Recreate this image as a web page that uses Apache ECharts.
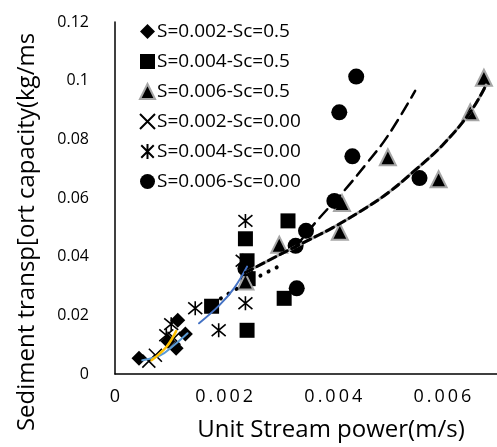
<!DOCTYPE html>
<html>
<head>
<meta charset="utf-8">
<script src="https://cdn.jsdelivr.net/npm/echarts@6/dist/echarts.min.js"></script>
<style>html,body{margin:0;padding:0;background:#fff;}#c{width:497px;height:447px;}</style>
</head>
<body>
<div id="c"></div>
<script>
// Series names (legend)
const seriesNames = ['S=0.002-Sc=0.5', 'S=0.004-Sc=0.5', 'S=0.006-Sc=0.5', 'S=0.002-Sc=0.00', 'S=0.004-Sc=0.00', 'S=0.006-Sc=0.00'];

// Scatter data [unit stream power, sediment transport capacity]
const s002sc05 = [[0.00044, 0.0054], [0.00115, 0.0183], [0.00129, 0.0136], [0.00112, 0.0088], [0.00097, 0.0112]];
const s004sc05 = [[0.00177, 0.0231], [0.00239, 0.0461], [0.00242, 0.0386], [0.00242, 0.0149], [0.00317, 0.0522], [0.0031, 0.0258], [0.00244, 0.0325]];
const s006sc05 = [[0.00239, 0.0315], [0.00301, 0.0441], [0.00412, 0.0485], [0.00416, 0.0583], [0.005, 0.0739], [0.00593, 0.0664], [0.00651, 0.0892], [0.00676, 0.101]];
const s002sc00 = [[0.00062, 0.0044], [0.00074, 0.0064], [0.00108, 0.0122]];
const s004sc00 = [[0.00094, 0.0132], [0.00103, 0.017], [0.00147, 0.0224], [0.0019, 0.0149], [0.00239, 0.0522], [0.00239, 0.0241], [0.00234, 0.0386]];
const s006sc00 = [[0.00239, 0.036], [0.00331, 0.0437], [0.0035, 0.0488], [0.00333, 0.0292], [0.00402, 0.059], [0.00435, 0.0742], [0.00411, 0.0892], [0.00442, 0.1014], [0.00558, 0.0668]];

// Trend lines
const trendLongDash = [[0.0033, 0.0431], [0.0037, 0.0522], [0.0042, 0.0625], [0.0046, 0.0715], [0.0050, 0.0812], [0.0055, 0.0965]];
const trendGrayDash = [[0.00239, 0.0346], [0.0030, 0.0405], [0.0035, 0.0452], [0.0040, 0.0500], [0.0045, 0.0555], [0.0050, 0.0617], [0.0055, 0.0695], [0.0060, 0.0780], [0.0065, 0.0890], [0.0068, 0.0985]];
const trendDots = [[0.0018, 0.0241], [0.00239, 0.0308], [0.0031, 0.0376]];
const trendBlue1 = [[0.00154, 0.0173], [0.00191, 0.0234], [0.00218, 0.0292], [0.00242, 0.0366]];
const trendBlue2 = [[0.0005, 0.0047], [0.00083, 0.0064], [0.00106, 0.0095], [0.00133, 0.0139]];
const trendOrange = [[0.00067, 0.0047], [0.00094, 0.0092], [0.00112, 0.0146]];

// Axis ticks
const xTickInterval = 0.002, xMin = 0, xMax = 0.007;
const yTickInterval = 0.02, yMin = 0, yMax = 0.12;

const FONT = 'Open Sans';
const crossPath = 'path://M0,0L10,10M10,0L0,10';
const starPath = 'path://M0,0L10,10M10,0L0,10M5,-1L5,11';

const chart = echarts.init(document.getElementById('c'), null, {renderer: 'canvas'});

function sc(name, data, symbol, size, style) {
  return {name, type: 'scatter', data, symbol, symbolSize: size, itemStyle: Object.assign({opacity: 1}, style), z: 2};
}
function tl(data, color, width, type, extra) {
  return Object.assign({type: 'line', data, smooth: 0.4, symbol: 'none', silent: true, z: 5,
    lineStyle: {color, width, type, cap: 'round'}}, extra || {});
}

chart.setOption({
  animation: false,
  backgroundColor: '#fff',
  grid: {left: 115, right: -13, top: 22, bottom: 71, containLabel: false},
  legend: {
    orient: 'vertical', left: 139, top: 22, padding: 0, itemGap: 11,
    itemWidth: 15, itemHeight: 15,
    textStyle: {fontFamily: FONT, fontSize: 19, color: '#000', padding: [0,0,0,-3]},
    data: seriesNames
  },
  xAxis: {
    type: 'value', min: xMin, max: xMax, interval: xTickInterval,
    name: 'Unit Stream power(m/s)', nameLocation: 'middle', nameGap: 44,
    nameTextStyle: {fontFamily: FONT, fontSize: 24, color: '#000', padding: [0,0,0,50]},
    axisLine: {show: true, lineStyle: {color: '#000', width: 1.5}},
    axisTick: {show: false}, splitLine: {show: false},
    axisLabel: {showMaxLabel: false, fontFamily: FONT, fontSize: 18, color: '#000', margin: 14,
      formatter: v => v === 0 ? '0' : v.toFixed(3).split('').join('\u2009')}
  },
  yAxis: {
    type: 'value', min: yMin, max: yMax, interval: yTickInterval,
    name: 'Sediment transp[ort capacity(kg/ms', nameLocation: 'middle', nameGap: 76,
    nameTextStyle: {fontFamily: FONT, fontSize: 24, color: '#000', padding: [0,68,0,0]},
    axisLine: {show: true, lineStyle: {color: '#000', width: 1.5}},
    axisTick: {show: false}, splitLine: {show: false},
    axisLabel: {fontFamily: FONT, fontSize: 16, color: '#000', margin: 26,
      formatter: v => String(+v.toFixed(2))}
  },
  series: [
    sc(seriesNames[0], s002sc05, 'diamond', 15, {color: '#000'}),
    sc(seriesNames[1], s004sc05, 'rect', 15, {color: '#000'}),
    sc(seriesNames[2], s006sc05, 'triangle', 16, {color: '#000', borderColor: '#A6A6A6', borderWidth: 2}),
    sc(seriesNames[3], s002sc00, crossPath, 13, {color: 'rgba(0,0,0,0)', borderColor: '#000', borderWidth: 1.6}),
    sc(seriesNames[4], s004sc00, starPath, 14, {color: 'rgba(0,0,0,0)', borderColor: '#000', borderWidth: 1.6}),
    sc(seriesNames[5], s006sc00, 'circle', 16, {color: '#000'}),
    tl(trendGrayDash, '#A6A6A6', 3, 'solid'),
    tl(trendGrayDash, '#000', 3, [8, 5], {z: 6}),
    tl(trendLongDash, '#000', 2.5, [12, 7]),
    tl(trendDots, '#000', 4, [0.1, 9]),
    tl(trendBlue1, '#4472C4', 2, 'solid'),
    tl(trendBlue2, '#5B9BD5', 2, 'solid'),
    tl(trendOrange, '#FFC000', 2.5, 'solid')
  ]
});
</script>
</body>
</html>
